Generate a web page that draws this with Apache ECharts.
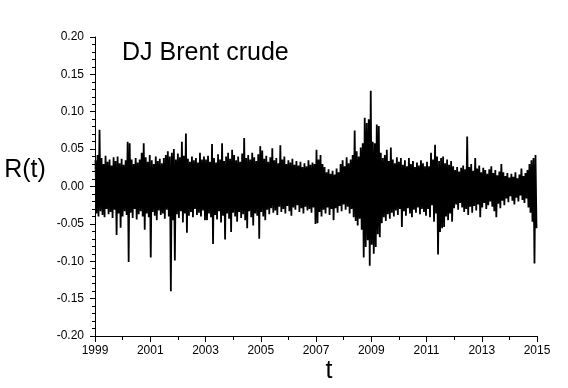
<!DOCTYPE html>
<html>
<head>
<meta charset="utf-8">
<script src="https://cdn.jsdelivr.net/npm/echarts@6/dist/echarts.min.js"></script>
<style>
  html, body { margin: 0; padding: 0; background: #fff; }
  #chart { width: 568px; height: 388px; }
</style>
</head>
<body>
<div id="chart"></div>
<script>
// Daily log-returns R(t) of the DJ Brent crude index, 1999-2015.
// Each array holds, for consecutive short windows of a 4-year span,
// the largest (hi) and smallest (lo) return inside that window.
const hi1999 = [0.035,0.042,0.076,0.038,0.030,0.041,0.033,0.036,0.028,0.039,0.034,0.040,0.031,0.037,0.029,0.035,0.060,0.058,0.036,0.030,0.038,0.032,0.036,0.045,0.058,0.039,0.033,0.042,0.035,0.030,0.040,0.034,0.037,0.031,0.038,0.042,0.047,0.040,0.045,0.050,0.036,0.044,0.039,0.060,0.041,0.071,0.037,0.033,0.040,0.035,0.038,0.032,0.045,0.036,0.040];
const lo1999 = [-0.036,-0.040,-0.033,-0.038,-0.041,-0.030,-0.037,-0.034,-0.042,-0.031,-0.065,-0.036,-0.055,-0.040,-0.033,-0.038,-0.101,-0.035,-0.042,-0.030,-0.044,-0.037,-0.033,-0.040,-0.058,-0.036,-0.041,-0.095,-0.034,-0.039,-0.045,-0.032,-0.038,-0.036,-0.043,-0.031,-0.040,-0.140,-0.045,-0.099,-0.037,-0.042,-0.033,-0.048,-0.036,-0.062,-0.039,-0.034,-0.041,-0.030,-0.038,-0.035,-0.040,-0.032,-0.045];

const hi2003 = [0.036,0.041,0.033,0.057,0.038,0.032,0.043,0.036,0.058,0.034,0.040,0.045,0.037,0.049,0.042,0.035,0.040,0.033,0.044,0.065,0.038,0.042,0.036,0.045,0.039,0.034,0.043,0.054,0.048,0.037,0.041,0.033,0.039,0.051,0.035,0.038,0.031,0.055,0.036,0.040,0.030,0.035,0.032,0.037,0.029,0.034,0.028,0.033,0.026,0.031,0.027,0.035,0.029,0.032,0.030];
const lo2003 = [-0.045,-0.036,-0.041,-0.077,-0.038,-0.044,-0.033,-0.048,-0.039,-0.071,-0.036,-0.043,-0.061,-0.035,-0.040,-0.047,-0.034,-0.042,-0.037,-0.045,-0.056,-0.033,-0.041,-0.052,-0.036,-0.039,-0.070,-0.034,-0.040,-0.045,-0.031,-0.037,-0.029,-0.035,-0.032,-0.038,-0.027,-0.034,-0.030,-0.036,-0.026,-0.033,-0.039,-0.028,-0.031,-0.025,-0.034,-0.029,-0.036,-0.027,-0.032,-0.030,-0.035,-0.028,-0.050];

const hi2007 = [0.049,0.036,0.042,0.030,0.026,0.019,0.023,0.017,0.021,0.016,0.024,0.019,0.030,0.035,0.027,0.039,0.031,0.036,0.042,0.075,0.047,0.040,0.052,0.058,0.092,0.085,0.090,0.128,0.060,0.058,0.083,0.081,0.045,0.038,0.042,0.049,0.034,0.052,0.036,0.031,0.039,0.033,0.038,0.029,0.035,0.027,0.038,0.030,0.034,0.026,0.032,0.028,0.035,0.031,0.027];
const lo2007 = [-0.049,-0.034,-0.040,-0.031,-0.036,-0.028,-0.038,-0.030,-0.045,-0.029,-0.035,-0.026,-0.033,-0.024,-0.031,-0.027,-0.036,-0.030,-0.041,-0.046,-0.052,-0.043,-0.058,-0.095,-0.081,-0.072,-0.106,-0.078,-0.090,-0.081,-0.064,-0.068,-0.049,-0.041,-0.046,-0.037,-0.043,-0.035,-0.040,-0.032,-0.038,-0.030,-0.054,-0.033,-0.039,-0.029,-0.036,-0.041,-0.031,-0.035,-0.028,-0.037,-0.030,-0.034,-0.039];

const hi2011 = [0.033,0.027,0.045,0.036,0.056,0.040,0.034,0.038,0.040,0.031,0.036,0.029,0.034,0.027,0.022,0.026,0.020,0.025,0.028,0.023,0.067,0.026,0.030,0.021,0.038,0.024,0.028,0.019,0.025,0.022,0.017,0.023,0.027,0.018,0.022,0.015,0.020,0.030,0.019,0.014,0.018,0.012,0.017,0.013,0.019,0.011,0.016,0.024,0.014,0.018,0.022,0.030,0.035,0.038,0.042];
const lo2011 = [-0.030,-0.041,-0.025,-0.047,-0.036,-0.091,-0.061,-0.056,-0.054,-0.040,-0.045,-0.036,-0.047,-0.029,-0.024,-0.031,-0.022,-0.028,-0.034,-0.030,-0.038,-0.027,-0.035,-0.026,-0.032,-0.024,-0.041,-0.028,-0.022,-0.030,-0.025,-0.020,-0.027,-0.033,-0.041,-0.023,-0.029,-0.019,-0.025,-0.016,-0.021,-0.013,-0.019,-0.024,-0.015,-0.020,-0.012,-0.018,-0.022,-0.016,-0.028,-0.035,-0.047,-0.103,-0.056];

const spans = [
  { start: 1999, hi: hi1999, lo: lo1999 },
  { start: 2003, hi: hi2003, lo: lo2003 },
  { start: 2007, hi: hi2007, lo: lo2007 },
  { start: 2011, hi: hi2011, lo: lo2011 }
];
const spanYears = 4;

// Trace each window's high then low so the series reads as a dense trace.
const series = [];
spans.forEach(function (s) {
  const step = spanYears / s.hi.length;
  for (let i = 0; i < s.hi.length; i++) {
    const t = s.start + i * step;
    series.push([t + step * 0.25, s.hi[i]]);
    series.push([t + step * 0.75, s.lo[i]]);
  }
});

const chart = echarts.init(document.getElementById('chart'), null, { renderer: 'canvas' });
const fontFamily = '"Liberation Sans", Arial, sans-serif';

chart.setOption({
  animation: false,
  backgroundColor: '#ffffff',
  grid: { left: 95, right: 31, top: 37, bottom: 52, containLabel: false },
  xAxis: {
    type: 'value',
    min: 1999,
    max: 2015,
    interval: 2,
    splitLine: { show: false },
    axisLine: { show: true, onZero: false, lineStyle: { color: '#000', width: 1 } },
    axisTick: { show: true, inside: false, length: 6, lineStyle: { color: '#000' } },
    minorTick: { show: true, splitNumber: 2, length: 4, lineStyle: { color: '#000' } },
    axisLabel: {
      color: '#000', fontSize: 12, fontFamily: fontFamily, margin: 9,
      formatter: function (v) { return String(v); }
    }
  },
  yAxis: {
    type: 'value',
    min: -0.2,
    max: 0.2,
    interval: 0.05,
    splitLine: { show: false },
    axisLine: { show: true, onZero: false, lineStyle: { color: '#000', width: 1 } },
    axisTick: { show: true, inside: false, length: 5, lineStyle: { color: '#000' } },
    minorTick: { show: true, splitNumber: 5, length: 3, lineStyle: { color: '#000' } },
    axisLabel: {
      color: '#000', fontSize: 12, fontFamily: fontFamily, margin: 11,
      formatter: function (v) { return v.toFixed(2); }
    }
  },
  graphic: [
    { type: 'text', left: 122, top: 41, style: { text: 'DJ Brent crude', fill: '#000', font: '25px ' + fontFamily } },
    { type: 'text', x: 25, y: 170, style: { text: 'R(t)', fill: '#000', font: '25px ' + fontFamily, align: 'center', verticalAlign: 'middle' } },
    { type: 'text', x: 329, y: 371, style: { text: 't', fill: '#000', font: '25px ' + fontFamily, align: 'center', verticalAlign: 'middle' } }
  ],
  series: [{
    type: 'line',
    data: series,
    showSymbol: false,
    symbol: 'none',
    lineStyle: { color: '#000', width: 1.8, join: 'bevel' },
    silent: true,
    clip: true
  }]
});
</script>
</body>
</html>
